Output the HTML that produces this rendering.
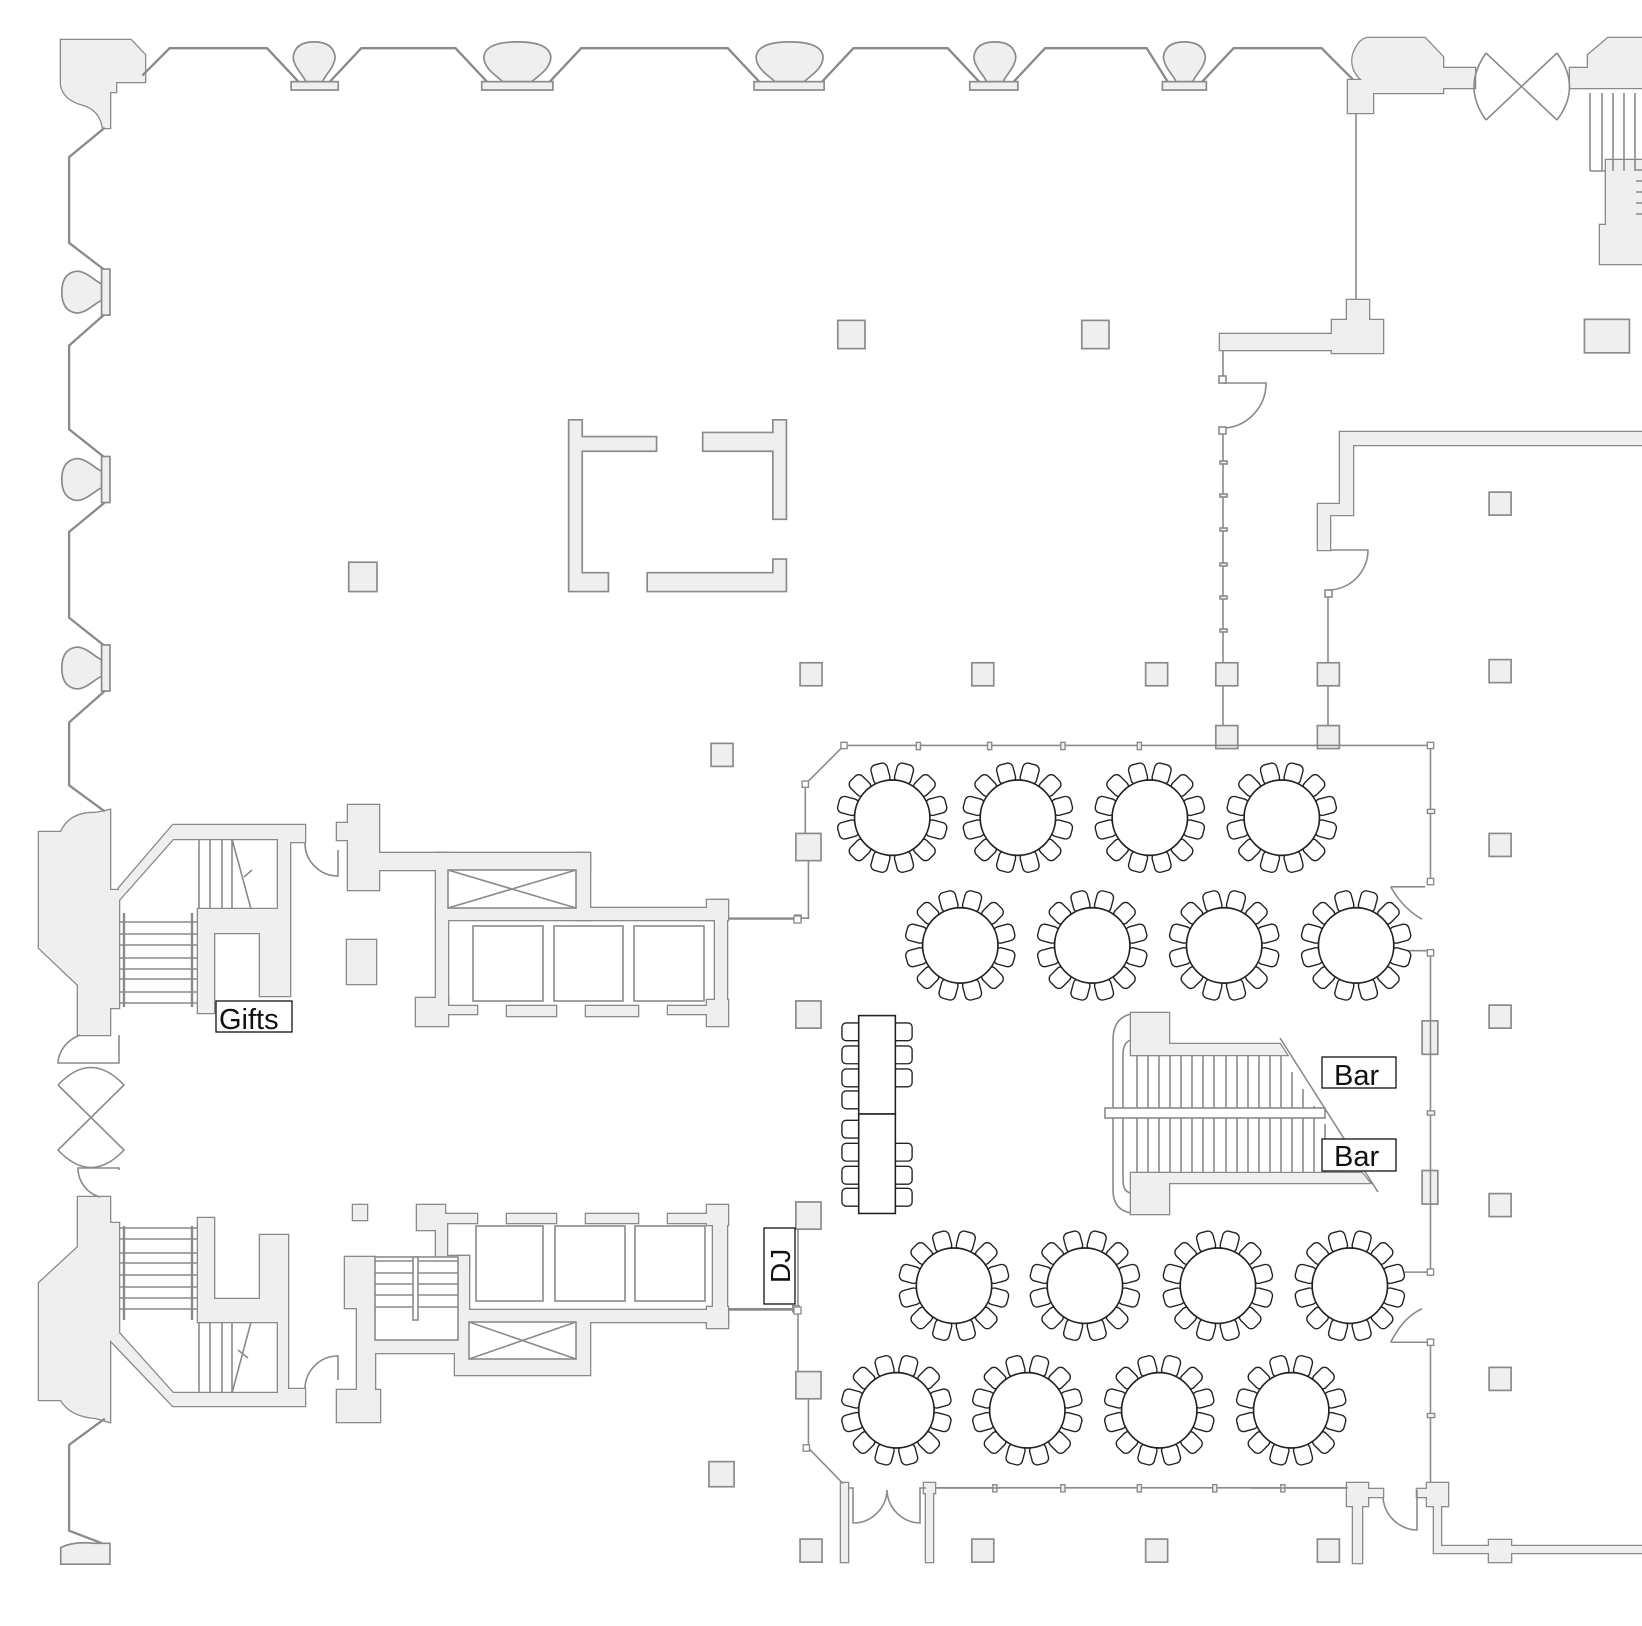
<!DOCTYPE html>
<html><head><meta charset="utf-8">
<style>
html,body{margin:0;padding:0;background:#fff;}
svg{display:block;}
text{font-family:"Liberation Sans",sans-serif;fill:#111;}
</style></head><body>
<svg width="1642" height="1626" viewBox="0 0 1642 1626" xmlns="http://www.w3.org/2000/svg">
<defs>
  <g id="chairs">
    <rect x="-8" y="-53" width="16" height="19" rx="5" transform="rotate(15)"/>
    <rect x="-8" y="-53" width="16" height="19" rx="5" transform="rotate(45)"/>
    <rect x="-8" y="-53" width="16" height="19" rx="5" transform="rotate(75)"/>
    <rect x="-8" y="-53" width="16" height="19" rx="5" transform="rotate(105)"/>
    <rect x="-8" y="-53" width="16" height="19" rx="5" transform="rotate(135)"/>
    <rect x="-8" y="-53" width="16" height="19" rx="5" transform="rotate(165)"/>
    <rect x="-8" y="-53" width="16" height="19" rx="5" transform="rotate(195)"/>
    <rect x="-8" y="-53" width="16" height="19" rx="5" transform="rotate(225)"/>
    <rect x="-8" y="-53" width="16" height="19" rx="5" transform="rotate(255)"/>
    <rect x="-8" y="-53" width="16" height="19" rx="5" transform="rotate(285)"/>
    <rect x="-8" y="-53" width="16" height="19" rx="5" transform="rotate(315)"/>
    <rect x="-8" y="-53" width="16" height="19" rx="5" transform="rotate(345)"/>
  </g>
  <g id="tbl">
    <use href="#chairs" fill="#fff" stroke="#222" stroke-width="1.3"/>
    <circle r="36" fill="#fff" stroke="#222" stroke-width="1.6"/>
  </g>
  <path id="bulbS" d="M-8,0 C-10,-6 -20,-14 -20,-24 Q-18,-38 0,-38 Q18,-38 20,-24 C20,-14 10,-6 8,0 Z"/>
  <path id="bulbW" d="M-14,0 C-20,-6 -32,-12 -32,-24 Q-30,-38 0,-38 Q30,-38 32,-24 C32,-12 20,-6 14,0 Z"/>

  <g id="U">
    <rect x="348" y="805" width="31" height="85"/>
    <rect x="337" y="823" width="12" height="17"/>
    <rect x="379" y="853" width="211" height="17"/>
    <rect x="576" y="853" width="14" height="67"/>
    <rect x="436" y="853" width="12" height="160"/>
    <rect x="436" y="908" width="279" height="12"/>
    <rect x="707" y="900" width="21" height="20"/>
    <rect x="715" y="900" width="12" height="110"/>
    <rect x="707" y="1000" width="21" height="26"/>
    <rect x="416" y="998" width="32" height="28"/>
    <rect x="445" y="1006" width="32" height="8"/>
    <rect x="507" y="1006" width="49" height="10"/>
    <rect x="586" y="1006" width="52" height="10"/>
    <rect x="668" y="1006" width="45" height="8"/>
    <rect x="347" y="940" width="29" height="44"/>
    <rect x="417" y="1205" width="28" height="25"/>
    <rect x="445" y="1214" width="32" height="9"/>
    <rect x="436" y="1223" width="11" height="45"/>
    <rect x="436" y="1256" width="33" height="12"/>
    <rect x="458" y="1256" width="11" height="97"/>
    <rect x="458" y="1310" width="270" height="12"/>
    <rect x="707" y="1205" width="21" height="20"/>
    <rect x="713" y="1215" width="14" height="100"/>
    <rect x="707" y="1307" width="21" height="21"/>
    <rect x="668" y="1214" width="45" height="9"/>
    <rect x="507" y="1214" width="49" height="9"/>
    <rect x="586" y="1214" width="52" height="9"/>
    <rect x="455" y="1322" width="135" height="53"/>
    <rect x="375" y="1340" width="83" height="13"/>
    <rect x="345" y="1257" width="30" height="51"/>
    <rect x="357" y="1300" width="18" height="95"/>
    <rect x="337" y="1390" width="43" height="32"/>
    <rect x="353" y="1205" width="14" height="15"/>
    <path d="M39,832 H61 Q70,812 96,813 L110,810 V890 H119 V1008 H110 V1035 H78 V985 L39,948 Z"/>
    <path d="M119,888 L173,825 H305 V842 H290 V996 H260 V933 H214 V1013 H198 V909 H278 V839 H173 L119,900 Z"/>
    <path d="M78,1197 H110 V1223 H119 V1333 L110,1340 V1422 L96,1418 Q70,1416 61,1400 H39 V1283 L78,1247 Z"/>
    <path d="M119,1333 L173,1393 H278 V1322 H198 V1218 H214 V1299 H260 V1235 H288 V1389 H305 V1406 H173 L110,1340 Z"/>
    <path d="M1367,38 H1425 L1443,57 V93 H1373 V113 H1348 V80 H1362 Q1350,70 1353,55 Q1358,40 1367,38 Z"/>
    <rect x="1443" y="68" width="32" height="20"/>
    <rect x="1570" y="68" width="18" height="20"/>
    <path d="M1588,55 L1608,38 H1642 V88 H1588 Z"/>
    <rect x="1606" y="160" width="40" height="65"/>
    <rect x="1600" y="225" width="46" height="39"/>
    <rect x="1220" y="334" width="115" height="16"/>
    <path d="M1332,320 H1347 V300 H1369 V320 H1383 V353 H1332 Z"/>
    <path d="M1340,432 H1650 V445 H1353 V515 H1330 V550 H1318 V504 H1340 Z"/>
    <rect x="1131" y="1013" width="38" height="42"/>
    <path d="M1169,1044 H1280 L1287,1055 H1169 Z"/>
    <rect x="1131" y="1173" width="38" height="41"/>
    <path d="M1169,1173 H1362 L1370,1183 H1169 Z"/>
    <rect x="1347" y="1483" width="21" height="23"/>
    <rect x="1368" y="1489" width="15" height="8"/>
    <rect x="1353" y="1506" width="9" height="57"/>
    <rect x="1417" y="1489" width="11" height="8"/>
    <rect x="1427" y="1483" width="21" height="23"/>
    <path d="M1434,1506 H1441 V1546 H1650 V1553 H1434 Z"/>
    <rect x="1489" y="1540" width="22" height="22"/>
    <rect x="841" y="1483" width="7" height="79"/>
    <rect x="924" y="1483" width="11" height="10"/>
    <rect x="926" y="1490" width="7" height="72"/>
    <path d="M61,40 H131 L145,55 V82 H116 V92 H110 V128 H103 Q100,110 84,105 Q63,100 61,84 Z"/>
  </g>
</defs>

<use href="#U" fill="#efefef" stroke="#8a8a8a" stroke-width="2.6"/>
<use href="#U" fill="#efefef" stroke="none"/>

<g fill="none" stroke="#8a8a8a" stroke-width="1.6">
  <rect x="448" y="870" width="128" height="38" fill="#fff"/>
  <path d="M448,870 L576,908 M576,870 L448,908"/>
  <rect x="469" y="1322" width="107" height="37" fill="#fff"/>
  <path d="M469,1322 L576,1359 M576,1322 L469,1359"/>
  <rect x="473" y="926" width="70" height="75"/>
  <rect x="554" y="926" width="69" height="75"/>
  <rect x="634" y="926" width="70" height="75"/>
  <rect x="476" y="1226" width="67" height="75"/>
  <rect x="555" y="1226" width="70" height="75"/>
  <rect x="635" y="1226" width="70" height="75"/>
  <rect x="375" y="1257" width="83" height="83" fill="#fff"/>
  <path d="M375,1261 H458 M375,1273 H458 M375,1284 H458 M375,1295 H458 M375,1307 H458"/>
  <rect x="413" y="1257" width="5" height="63" fill="#fff"/>
  <path d="M119,922 H198 M119,934 H198 M119,945 H198 M119,958 H198 M119,969 H198 M119,979 H198 M119,992 H198 M119,1003 H198"/>
  <path d="M124,913 V1007 M192,913 V1007" stroke-width="2.4"/>
  <path d="M199,839 V909 M210,839 V909 M222,839 V909 M232,839 V909 M232,839 L251,909 M244,877 L252,870"/>
  <path d="M119,1228 H198 M119,1239 H198 M119,1253 H198 M119,1263 H198 M119,1275 H198 M119,1287 H198 M119,1298 H198 M119,1309 H198"/>
  <path d="M124,1226 V1320 M192,1226 V1320" stroke-width="2.4"/>
  <path d="M199,1322 V1393 M210,1322 V1393 M222,1322 V1393 M232,1322 V1393 M251,1322 L232,1393 M238,1350 L248,1358"/>
  <path d="M305,842 A33,33 0 0 0 338,876 V850"/>
  <path d="M305,1389 A33,33 0 0 1 338,1356 V1380"/>
  <path d="M119,1035 V1063 H58 A36,32 0 0 1 80,1035"/>
  <path d="M58,1085 Q91,1050 124,1085 L58,1150 Q91,1185 124,1150 L58,1085"/>
  <path d="M119,1170 V1168 H78 A30,30 0 0 0 100,1197"/>
  <path d="M1356,113 V300"/>
  <path d="M1486,53 L1557,120 M1557,53 L1486,120 M1486,53 Q1462,87 1486,120 M1557,53 Q1582,87 1557,120"/>
  <path d="M1590,93 V171 M1602,93 V171 M1613,93 V171 M1624,93 V171 M1635,93 V171 M1590,171 H1606 M1636,170 H1642 M1636,181 H1642 M1636,192 H1642 M1636,203 H1642 M1636,214 H1642"/>
  <path d="M1223,350 V376 M1223,383 H1266 A45,45 0 0 1 1226,428 M1223,434 V663 M1223,686 V725"/>
  <path d="M1330,550 H1368 A40,40 0 0 1 1328,590 M1328,595 V663 M1328,686 V725"/>
  <rect x="1219" y="376" width="7" height="7" fill="#fff"/>
  <rect x="1219" y="427" width="7" height="7" fill="#fff"/>
  <g fill="#efefef">
    <rect x="1220" y="461" width="7" height="3"/><rect x="1220" y="494" width="7" height="3"/>
    <rect x="1220" y="528" width="7" height="3"/><rect x="1220" y="563" width="7" height="3"/>
    <rect x="1220" y="596" width="7" height="3"/><rect x="1220" y="629" width="7" height="3"/>
  </g>
  <rect x="1325" y="590" width="7" height="7" fill="#fff"/>
  <path d="M1131,1014 Q1113,1018 1113,1040 V1190 Q1113,1210 1131,1213 M1131,1040 Q1123,1042 1123,1055 V1180 Q1123,1192 1131,1193"/>
  <path d="M1137,1055 V1173 M1148,1055 V1173 M1159,1055 V1173 M1170,1055 V1173 M1181,1055 V1173 M1192,1055 V1173 M1203,1055 V1173 M1214,1055 V1173 M1226,1055 V1173 M1237,1055 V1173 M1248,1055 V1173 M1259,1055 V1173 M1270,1055 V1173 M1281,1055 V1173 M1292,1072 V1173 M1303,1089 V1173 M1314,1106 V1173 M1325,1124 V1173 M1336,1141 V1173"/>
  <rect x="1105" y="1108" width="220" height="10" fill="#fff"/>
  <path d="M1280,1038 L1378,1192"/>
  <path d="M1383,1497 A35,35 0 0 0 1417,1530 V1490"/>
  <path d="M848,1488 H853 V1523 A34,34 0 0 0 887,1490 A34,34 0 0 0 920,1523 V1488 H926"/>
</g>

<g transform="scale(1.0472 1.047)">
  <g fill="none" stroke="#8a8a8a" stroke-width="2.2">
    <path d="M136,72 L162,46 H255 L285,78"/>
    <path d="M315,78 L345,46 H435 L465,78"/>
    <path d="M525,78 L555,46 H695 L725,78"/>
    <path d="M785,78 L815,46 H905 L935,78"/>
    <path d="M968,78 L998,46 H1095 L1115,78"/>
    <path d="M1148,78 L1178,46 H1262 L1292,76"/>
    <path d="M100,122 L66,150 V232 L100,258"/>
    <path d="M100,300 L66,330 V410 L100,437"/>
    <path d="M100,480 L66,508 V590 L100,617"/>
    <path d="M100,660 L66,690 V750 L100,775"/>
    <path d="M100,1355 L66,1380 V1462 L100,1475"/>
  </g>
  <g fill="#efefef" stroke="#8a8a8a" stroke-width="1.6">
    <use href="#bulbS" transform="translate(300,78)"/><rect x="278" y="78" width="45" height="8"/>
    <use href="#bulbW" transform="translate(494,78)"/><rect x="460" y="78" width="68" height="8"/>
    <use href="#bulbW" transform="translate(754,78)"/><rect x="720" y="78" width="67" height="8"/>
    <use href="#bulbS" transform="translate(950,78)"/><rect x="926" y="78" width="46" height="8"/>
    <use href="#bulbS" transform="translate(1131,78)"/><rect x="1110" y="78" width="42" height="8"/>
    <use href="#bulbS" transform="translate(97,279) rotate(-90)"/><rect x="97" y="257" width="8" height="44"/>
    <use href="#bulbS" transform="translate(97,458) rotate(-90)"/><rect x="97" y="436" width="8" height="44"/>
    <use href="#bulbS" transform="translate(97,638) rotate(-90)"/><rect x="97" y="616" width="8" height="44"/>
    <path d="M58,1478 Q70,1472 90,1474 L105,1474 V1494 H58 Z"/>
    <path d="M543,401 H556 V417 H627 V431 H556 V547 H581 V565 H543 Z"/>
    <path d="M671,413 H738 V401 H751 V496 H738 V431 H671 Z"/>
    <path d="M618,547 H738 V534 H751 V565 H618 Z"/>
    <rect x="800" y="306" width="26" height="27"/><rect x="1033" y="306" width="26" height="27"/>
    <rect x="1513" y="305" width="43" height="32"/>
    <rect x="333" y="537" width="27" height="28"/>
    <rect x="764" y="633" width="21" height="22"/><rect x="928" y="633" width="21" height="22"/>
    <rect x="1094" y="633" width="21" height="22"/><rect x="1161" y="633" width="21" height="22"/>
    <rect x="1258" y="633" width="21" height="22"/><rect x="1422" y="630" width="21" height="22"/>
    <rect x="679" y="710" width="21" height="22"/>
    <rect x="1161" y="693" width="21" height="22"/><rect x="1258" y="693" width="21" height="22"/>
    <rect x="1422" y="470" width="21" height="22"/>
    <rect x="760" y="796" width="24" height="26"/>
    <rect x="1422" y="796" width="21" height="22"/><rect x="1422" y="960" width="21" height="22"/>
    <rect x="1422" y="1140" width="21" height="22"/><rect x="1422" y="1306" width="21" height="22"/>
    <rect x="760" y="956" width="24" height="26"/>
    <rect x="760" y="1148" width="24" height="26"/>
    <rect x="760" y="1310" width="24" height="26"/>
    <rect x="677" y="1396" width="24" height="24"/>
    <rect x="764" y="1470" width="21" height="22"/><rect x="928" y="1470" width="21" height="22"/>
    <rect x="1094" y="1470" width="21" height="22"/><rect x="1258" y="1470" width="21" height="22"/>
    <rect x="1358" y="975" width="15" height="32"/><rect x="1358" y="1118" width="15" height="32"/>
  </g>
  <g fill="none" stroke="#8a8a8a" stroke-width="1.5">
    <path d="M806,712 H1366 V842"/>
    <path d="M806,712 L769,749 V796"/>
    <path d="M772,822 V877 H696"/>
    <path d="M1366,910 V1215 H1340"/>
    <path d="M1366,908 H1340"/>
    <path d="M1366,1282 V1416"/>
    <path d="M1328,847 H1361 M1328,847 Q1340,868 1358,878"/>
    <path d="M1328,1282 H1366 M1328,1282 Q1340,1258 1358,1250"/>
    <path d="M762,1174 V1310 M696,1250 H762"/>
    <path d="M772,1336 V1383 L805,1417"/>
    <path d="M893,1421 H1287"/>
  </g>
  <g fill="#fff" stroke="#8a8a8a" stroke-width="1.3">
    <rect x="803" y="709" width="6" height="6"/><rect x="766" y="746" width="6" height="6"/>
    <rect x="759" y="874" width="6" height="6"/><rect x="1363" y="709" width="6" height="6"/>
    <rect x="1363" y="839" width="6" height="6"/><rect x="1363" y="907" width="6" height="6"/>
    <rect x="1363" y="1212" width="6" height="6"/><rect x="1363" y="1279" width="6" height="6"/>
    <rect x="757" y="1247" width="6" height="6"/><rect x="767" y="1380" width="6" height="6"/>
    <g fill="#efefef">
      <rect x="875" y="709" width="4" height="7"/><rect x="943" y="709" width="4" height="7"/>
      <rect x="1013" y="709" width="4" height="7"/><rect x="1086" y="709" width="4" height="7"/>
      <rect x="1363" y="773" width="7" height="4"/><rect x="1363" y="1061" width="7" height="4"/>
      <rect x="1363" y="1350" width="7" height="4"/>
      <rect x="948" y="1418" width="4" height="7"/><rect x="1013" y="1418" width="4" height="7"/>
      <rect x="1086" y="1418" width="4" height="7"/><rect x="1158" y="1418" width="4" height="7"/>
      <rect x="1223" y="1418" width="4" height="7"/>
    </g>
  </g>
  <use href="#tbl" x="852" y="781"/><use href="#tbl" x="972" y="781"/>
  <use href="#tbl" x="1098" y="781"/><use href="#tbl" x="1224" y="781"/>
  <use href="#tbl" x="917" y="903"/><use href="#tbl" x="1043" y="903"/>
  <use href="#tbl" x="1169" y="903"/><use href="#tbl" x="1295" y="903"/>
  <use href="#tbl" x="911" y="1228"/><use href="#tbl" x="1036" y="1228"/>
  <use href="#tbl" x="1163" y="1228"/><use href="#tbl" x="1289" y="1228"/>
  <use href="#tbl" x="856" y="1347"/><use href="#tbl" x="981" y="1347"/>
  <use href="#tbl" x="1107" y="1347"/><use href="#tbl" x="1233" y="1347"/>
  <g fill="#fff" stroke="#222" stroke-width="1.3">
    <rect x="804" y="977" width="22" height="17" rx="4"/><rect x="804" y="999" width="22" height="17" rx="4"/>
    <rect x="804" y="1021" width="22" height="17" rx="4"/><rect x="804" y="1042" width="22" height="17" rx="4"/>
    <rect x="804" y="1070" width="22" height="17" rx="4"/><rect x="804" y="1092" width="22" height="17" rx="4"/>
    <rect x="804" y="1114" width="22" height="17" rx="4"/><rect x="804" y="1135" width="22" height="17" rx="4"/>
    <rect x="849" y="977" width="22" height="17" rx="4"/><rect x="849" y="999" width="22" height="17" rx="4"/>
    <rect x="849" y="1021" width="22" height="17" rx="4"/>
    <rect x="849" y="1092" width="22" height="17" rx="4"/><rect x="849" y="1114" width="22" height="17" rx="4"/>
    <rect x="849" y="1135" width="22" height="17" rx="4"/>
    <rect x="820" y="970" width="35" height="94" stroke-width="1.5"/>
    <rect x="820" y="1064" width="35" height="95" stroke-width="1.5"/>
  </g>
</g>

<g fill="none" stroke="#8a8a8a" stroke-width="1.6">
  <path d="M728,919 H794 M728,1310 H794"/>
  <path d="M1250,1488 H1347"/>
  <path d="M935,1488 H1000"/>
</g>
<g fill="#fff" stroke="#8a8a8a" stroke-width="1.3">
  <rect x="794" y="916" width="7" height="7"/>
  <rect x="794" y="1307" width="7" height="7"/>
</g>

<g fill="#fff" stroke="#111" stroke-width="1.3">
  <rect x="216" y="1001" width="76" height="31"/>
  <rect x="1322" y="1057" width="74" height="31"/>
  <rect x="1322" y="1139" width="74" height="32"/>
  <rect x="764" y="1228" width="31" height="76"/>
</g>
<text x="219" y="1029" font-size="29">Gifts</text>
<text x="1334" y="1085" font-size="29">Bar</text>
<text x="1334" y="1166" font-size="29">Bar</text>
<text x="0" y="0" font-size="28" transform="translate(790,1283) rotate(-90)">DJ</text>
</svg>
</body></html>
